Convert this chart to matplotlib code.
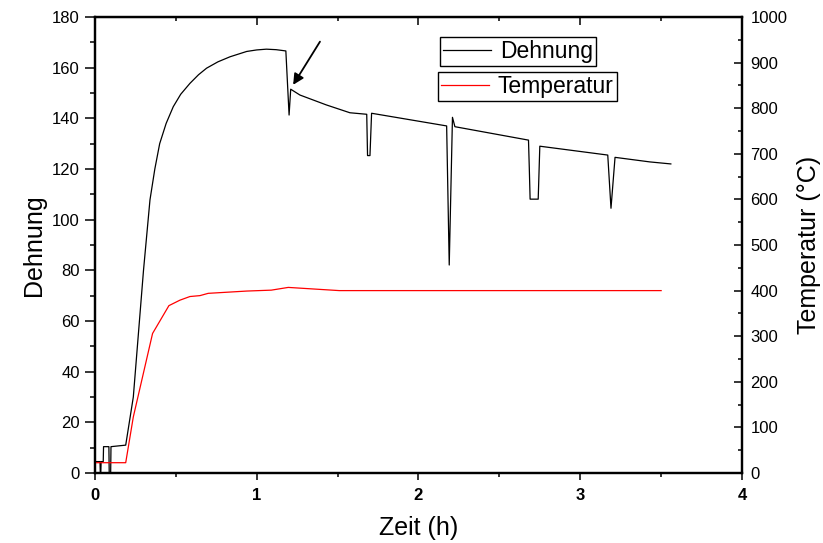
import matplotlib
matplotlib.use('Agg')
import matplotlib.pyplot as plt
from matplotlib.ticker import MultipleLocator

plt.rcParams['font.family'] = ['Liberation Sans', 'DejaVu Sans']

# Dehnung (black)
zeit_d = [0, 0.031, 0.033, 0.036, 0.038, 0.051, 0.053, 0.086, 0.088, 0.097, 0.099,
          0.19, 0.237, 0.30, 0.34, 0.37, 0.40, 0.44, 0.484, 0.53, 0.587, 0.64, 0.69,
          0.76, 0.835, 0.938, 1.0, 1.06, 1.12,
          1.18, 1.2, 1.21, 1.267, 1.43, 1.576, 1.68, 1.685, 1.70, 1.71,
          2.174, 2.19, 2.21, 2.225, 2.68, 2.685, 2.69, 2.74, 2.75,
          3.17, 3.19, 3.215, 3.43, 3.56]
dehnung = [4.5, 4.5, 0, 0, 4.5, 4.5, 10.4, 10.4, 0, 0, 10.4,
           11, 30, 80, 107.8, 120, 130, 138, 144.6, 149.5, 153.8, 157.2, 159.8,
           162.3, 164.3, 166.4, 167, 167.3, 167.1,
           166.6, 141.3, 151.5, 149.2, 145.3, 142.2, 141.6, 125.3, 125.3, 142,
           137, 82.1, 140.4, 136.7, 131.4, 120.3, 108.1, 108.1, 129,
           125.5, 104.5, 124.6, 122.8, 122]

# Temperatur (red)
zeit_t = [0, 0.19, 0.237, 0.356, 0.457, 0.525, 0.587, 0.649, 0.70, 0.938, 1.09, 1.195, 1.51, 3.5]
temperatur = [22.6, 22.6, 123, 306, 367, 379, 387, 389, 394, 399, 401, 407, 400, 400]

fig = plt.figure(figsize=(8.23, 5.43), dpi=100)
ax = fig.add_axes([0.1154, 0.1289, 0.7862, 0.8398])
ax2 = ax.twinx()

l1, = ax.plot(zeit_d, dehnung, color='black', lw=0.9)
l2, = ax2.plot(zeit_t, temperatur, color='red', lw=0.9)

ax.set_xlim(0, 4)
ax.set_ylim(0, 180)
ax2.set_ylim(0, 1000)
ax.xaxis.set_major_locator(MultipleLocator(1))
ax.xaxis.set_minor_locator(MultipleLocator(0.5))
ax.yaxis.set_major_locator(MultipleLocator(20))
ax.yaxis.set_minor_locator(MultipleLocator(10))
ax2.yaxis.set_major_locator(MultipleLocator(100))
ax2.yaxis.set_minor_locator(MultipleLocator(50))

for a in (ax, ax2):
    for s in a.spines.values():
        s.set_linewidth(1.6)

ax.tick_params(axis='y', which='major', direction='out', length=7, width=1.1, labelsize=12, pad=4)
ax.tick_params(axis='y', which='minor', direction='out', length=3.6, width=1.1)
ax.tick_params(axis='x', which='major', direction='out', length=5, width=1.1, labelsize=12, pad=6)
ax.tick_params(axis='x', which='minor', direction='out', length=3, width=1.1)
ax2.tick_params(which='major', direction='in', length=6, width=1.1, labelsize=12, pad=6)
ax2.tick_params(which='minor', direction='in', length=3, width=1.1)
for lab in ax.get_xticklabels():
    lab.set_fontweight('bold')

top = ax.secondary_xaxis('top')
top.xaxis.set_major_locator(MultipleLocator(1))
top.xaxis.set_minor_locator(MultipleLocator(0.5))
top.tick_params(which='major', direction='in', length=6, width=1.1, labeltop=False)
top.tick_params(which='minor', direction='in', length=3, width=1.1)

ax.set_xlabel('Zeit (h)', fontsize=18, labelpad=9)
ax.set_ylabel('Dehnung', fontsize=18, labelpad=4)
ax2.set_ylabel('Temperatur (°C)', fontsize=18, labelpad=7)

ax.annotate('', xy=(1.216, 152.3), xytext=(1.40, 171.2),
            arrowprops=dict(arrowstyle='-|>', color='black', lw=1.3, mutation_scale=16))

leg1 = ax.legend([l1], ['Dehnung'], loc='upper left', bbox_to_anchor=(0.533, 0.956),
                 borderaxespad=0, fontsize=16.5, fancybox=False, edgecolor='black',
                 framealpha=1, handlelength=2.1, handletextpad=0.4, borderpad=0.12)
leg1.get_frame().set_linewidth(1.0)
leg2 = ax2.legend([l2], ['Temperatur'], loc='upper left', bbox_to_anchor=(0.530, 0.879),
                  borderaxespad=0, fontsize=16.5, fancybox=False, edgecolor='black',
                  framealpha=1, handlelength=2.1, handletextpad=0.4, borderpad=0.12)
leg2.get_frame().set_linewidth(1.0)

fig.savefig('out.png', dpi=100)
